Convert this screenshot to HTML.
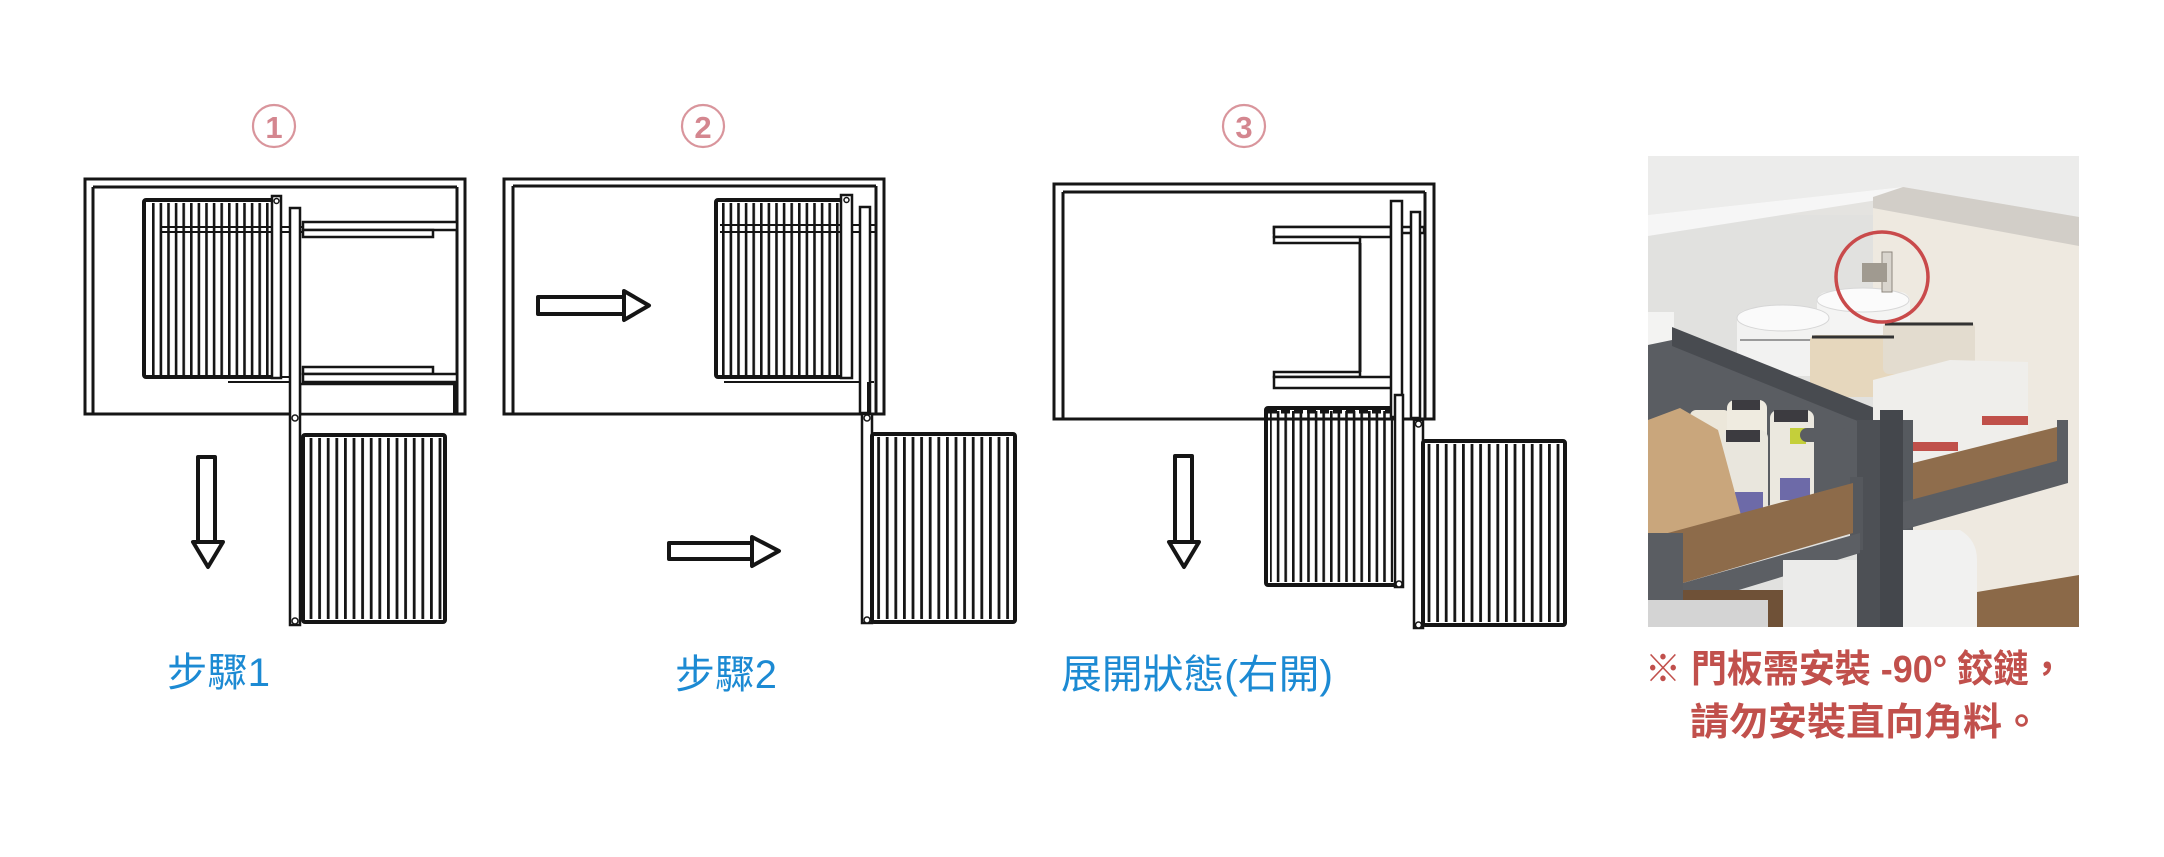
<!DOCTYPE html>
<html><head><meta charset="utf-8">
<style>
html,body{margin:0;padding:0;background:#fff;}
body{width:2164px;height:857px;overflow:hidden;}
svg{display:block;}
</style></head><body>
<svg width="2164" height="857" viewBox="0 0 2164 857" xmlns="http://www.w3.org/2000/svg">
<defs>
<pattern id="ba" patternUnits="userSpaceOnUse" width="7.6" height="10"><rect x="0" y="0" width="2.6" height="10" fill="#151515"/></pattern>
<pattern id="bb" patternUnits="userSpaceOnUse" width="8.6" height="10"><rect x="0" y="0" width="2.8" height="10" fill="#151515"/></pattern>
<clipPath id="pc"><rect x="1648" y="156" width="431" height="471"/></clipPath>
</defs>
<rect width="2164" height="857" fill="#fff"/>

<!-- circled numbers -->
<g fill="none" stroke="#d9959c" stroke-width="2.2">
<circle cx="274" cy="126" r="21"/>
<circle cx="703" cy="126" r="21"/>
<circle cx="1244" cy="126" r="21"/>
</g>
<g font-family="'Liberation Sans','Noto Sans CJK TC',sans-serif" font-weight="bold" font-size="31" fill="#d4868f" text-anchor="middle">
<text x="274" y="138">1</text>
<text x="703" y="138">2</text>
<text x="1244" y="138">3</text>
</g>

<!-- ===== PANEL 1 ===== -->
<g stroke="#151515" fill="none" stroke-width="3">
<rect x="85" y="179" width="380" height="235"/>
<line x1="93" y1="187" x2="457" y2="187"/>
<line x1="93" y1="187" x2="93" y2="414"/>
<line x1="457" y1="187" x2="457" y2="414"/>
</g>
<rect x="148" y="203" width="122" height="172" fill="url(#ba)"/>
<rect x="144" y="200" width="129" height="177" rx="2" fill="none" stroke="#151515" stroke-width="4"/>
<g stroke="#151515" stroke-width="2" fill="none">
<line x1="160" y1="227" x2="303" y2="227"/>
<line x1="160" y1="232" x2="303" y2="232"/>
<line x1="228" y1="377" x2="300" y2="377"/>
<line x1="228" y1="382" x2="300" y2="382"/>
</g>
<g stroke="#151515" stroke-width="2.5" fill="#fff">
<rect x="272" y="196" width="9" height="182"/>
<rect x="303" y="222" width="154" height="8"/>
<rect x="303" y="230" width="130" height="7"/>
<rect x="303" y="367" width="130" height="7"/>
<rect x="303" y="374" width="154" height="8"/>
<rect x="300" y="384" width="157" height="30"/>
<rect x="290" y="208" width="10" height="417"/>
</g>
<line x1="455" y1="384" x2="455" y2="414" stroke="#151515" stroke-width="4"/>
<g fill="#fff" stroke="#151515" stroke-width="1.5">
<circle cx="276.5" cy="201" r="2.5"/>
<circle cx="295" cy="418" r="3"/>
<circle cx="295" cy="621" r="3"/>
</g>
<rect x="307" y="438" width="135" height="181" fill="url(#bb)"/>
<rect x="303" y="435" width="142" height="187" rx="2" fill="none" stroke="#151515" stroke-width="4"/>
<g stroke="#151515" stroke-width="4" fill="#fff" stroke-linejoin="round">
<rect x="198" y="457" width="17" height="85"/>
<polygon points="193,542 223,542 208,567"/>
</g>

<!-- ===== PANEL 2 ===== -->
<g stroke="#151515" fill="none" stroke-width="3">
<rect x="504" y="179" width="380" height="235"/>
<line x1="513" y1="186" x2="876" y2="186"/>
<line x1="513" y1="186" x2="513" y2="414"/>
<line x1="876" y1="186" x2="876" y2="414"/>
</g>
<rect x="720" y="203" width="122" height="172" fill="url(#ba)"/>
<rect x="716" y="200" width="129" height="177" rx="2" fill="none" stroke="#151515" stroke-width="4"/>
<g stroke="#151515" stroke-width="2" fill="none">
<line x1="720" y1="225" x2="876" y2="225"/>
<line x1="720" y1="232" x2="876" y2="232"/>
<line x1="724" y1="382" x2="874" y2="382"/>
</g>
<g stroke="#151515" stroke-width="2.5" fill="#fff">
<rect x="841" y="195" width="11" height="183"/>
<rect x="860" y="207" width="10" height="206"/>
<rect x="862" y="414" width="10" height="209"/>
</g>
<line x1="869" y1="382" x2="869" y2="414" stroke="#151515" stroke-width="4"/>
<g fill="#fff" stroke="#151515" stroke-width="1.5">
<circle cx="846.5" cy="200" r="2.5"/>
<circle cx="867" cy="418" r="3"/>
<circle cx="867" cy="620" r="3"/>
</g>
<rect x="876" y="437" width="136" height="182" fill="url(#bb)"/>
<rect x="872" y="434" width="143" height="188" rx="2" fill="none" stroke="#151515" stroke-width="4"/>
<g stroke="#151515" stroke-width="4" fill="#fff" stroke-linejoin="round">
<rect x="538" y="297" width="88" height="17"/>
<polygon points="624,291 649,305.5 624,320"/>
<rect x="669" y="543" width="84" height="16"/>
<polygon points="752,537 779,551 752,566"/>
</g>

<!-- ===== PANEL 3 ===== -->
<g stroke="#151515" fill="none" stroke-width="3">
<rect x="1054" y="184" width="380" height="235"/>
<line x1="1063" y1="192" x2="1425" y2="192"/>
<line x1="1063" y1="192" x2="1063" y2="419"/>
<line x1="1425" y1="192" x2="1425" y2="419"/>
</g>
<g stroke="#151515" stroke-width="2.5" fill="#fff">
<rect x="1274" y="227" width="150" height="6"/>
<rect x="1274" y="227" width="117" height="10"/>
<rect x="1274" y="237" width="86" height="6"/>
<rect x="1274" y="372" width="86" height="5"/>
<rect x="1274" y="377" width="121" height="11"/>
</g>
<line x1="1360" y1="243" x2="1360" y2="372" stroke="#151515" stroke-width="3"/>
<rect x="1270" y="411" width="123" height="171" fill="url(#ba)"/>
<rect x="1266" y="408" width="130" height="177" rx="2" fill="none" stroke="#151515" stroke-width="4"/>
<line x1="1268" y1="411" x2="1394" y2="411" stroke="#151515" stroke-width="5" stroke-dasharray="9,4"/>
<g stroke="#151515" stroke-width="2.5" fill="#fff">
<rect x="1391" y="201" width="11" height="216"/>
<rect x="1411" y="212" width="9" height="206"/>
<rect x="1395" y="395" width="8" height="192"/>
<rect x="1414" y="420" width="9" height="208"/>
</g>
<g fill="#fff" stroke="#151515" stroke-width="1.5">
<circle cx="1399" cy="584" r="3"/>
<circle cx="1418.5" cy="424" r="3"/>
<circle cx="1418.5" cy="625" r="3"/>
</g>
<rect x="1427" y="444" width="135" height="178" fill="url(#bb)"/>
<rect x="1423" y="441" width="142" height="184" rx="2" fill="none" stroke="#151515" stroke-width="4"/>
<g stroke="#151515" stroke-width="4" fill="#fff" stroke-linejoin="round">
<rect x="1175" y="456" width="17" height="86"/>
<polygon points="1169,542 1199,542 1184,567"/>
</g>

<!-- ===== PHOTO ===== -->
<g clip-path="url(#pc)">
<rect x="1648" y="156" width="431" height="471" fill="#e4e3e0"/>
<!-- walls -->
<rect x="1648" y="215" width="230" height="412" fill="#e1e1df"/>
<polygon points="1873,195 2079,240 2079,627 1873,627" fill="#eee9e0"/>
<!-- countertop -->
<polygon points="1648,156 2079,156 2079,217 1903,187 1648,215" fill="#ececeb"/>
<polygon points="1648,215 1903,187 1903,196 1648,236" fill="#f6f6f6"/>
<polygon points="1873,197 1903,187 2079,217 2079,246 1873,208" fill="#d2cec8"/>
<!-- containers -->
<rect x="1648" y="312" width="26" height="52" fill="#f3f3f2"/>
<rect x="1817" y="292" width="93" height="45" rx="10" fill="#f4f4f3"/>
<ellipse cx="1863" cy="300" rx="46" ry="12" fill="#fbfbfb" stroke="#d8d8d8"/>
<rect x="1737" y="310" width="93" height="66" rx="10" fill="#f2f2f1"/>
<ellipse cx="1783" cy="318" rx="46" ry="13" fill="#fafafa" stroke="#d6d6d6"/>
<line x1="1740" y1="340" x2="1828" y2="340" stroke="#9a9a9a" stroke-width="2"/>
<rect x="1810" y="335" width="86" height="62" rx="6" fill="#e6d7bd"/>
<rect x="1883" y="322" width="92" height="52" rx="6" fill="#e3dccf"/>
<line x1="1812" y1="337" x2="1894" y2="337" stroke="#333" stroke-width="3"/>
<line x1="1885" y1="324" x2="1973" y2="324" stroke="#333" stroke-width="3"/>
<!-- wood lid jar -->
<rect x="1648" y="360" width="70" height="55" fill="#f2f2f0"/>
<ellipse cx="1683" cy="370" rx="35" ry="12" fill="#d8b48a"/>
<!-- dark rail + side panel -->
<polygon points="1672,340 1867,425 1867,480 1648,537 1648,345" fill="#5a5d62"/>
<polygon points="1672,327 1897,417 1897,437 1672,346" fill="#484b50"/>
<!-- jars -->
<rect x="1690" y="410" width="40" height="80" rx="6" fill="#ece7da"/>
<rect x="1727" y="400" width="40" height="110" rx="8" fill="#efebe0"/>
<rect x="1722" y="430" width="46" height="100" rx="8" fill="#e9e6dd"/>
<rect x="1770" y="410" width="44" height="108" rx="8" fill="#ebe8df"/>
<rect x="1732" y="400" width="28" height="10" fill="#3c3b40"/>
<rect x="1774" y="410" width="34" height="12" fill="#3c3b40"/>
<rect x="1726" y="430" width="34" height="12" fill="#3c3b40"/>
<rect x="1735" y="492" width="28" height="22" fill="#6d6aa8"/>
<rect x="1780" y="478" width="30" height="22" fill="#6d6aa8"/>
<rect x="1790" y="428" width="16" height="16" fill="#c4cf3a"/>
<!-- kraft bag -->
<polygon points="1648,420 1680,408 1718,430 1745,530 1700,548 1648,548" fill="#c9a67c"/>
<!-- handle -->
<rect x="1800" y="428" width="48" height="14" rx="7" fill="#5a5d62"/>
<!-- captiva bags -->
<polygon points="1873,380 1950,360 2028,362 2028,440 1915,470 1873,465" fill="#efeeeb"/>
<rect x="1912" y="442" width="46" height="9" fill="#c0504a"/>
<rect x="1982" y="416" width="46" height="9" fill="#c0504a"/>
<!-- center posts -->
<rect x="1857" y="420" width="23" height="207" fill="#4d5055"/>
<rect x="1880" y="410" width="23" height="217" fill="#44474c"/>
<rect x="1850" y="477" width="13" height="73" fill="#55585d"/>
<!-- left tray -->
<polygon points="1653,537 1853,483 1853,533 1683,583 1653,583" fill="#8d6b4a"/>
<polygon points="1683,583 1860,533 1860,553 1683,607" fill="#5c5f64"/>
<rect x="1648" y="533" width="35" height="80" fill="#5a5d62"/>
<!-- under left tray -->
<rect x="1683" y="590" width="100" height="37" fill="#6f5137"/>
<rect x="1783" y="560" width="74" height="67" fill="#ebebea"/>
<rect x="1648" y="600" width="120" height="27" fill="#d4d4d4"/>
<!-- right tray -->
<rect x="1903" y="420" width="10" height="110" fill="#565a5f"/>
<polygon points="1913,463 2057,427 2057,463 1913,502" fill="#8f6d4c"/>
<polygon points="1903,502 2068,458 2068,483 1903,530" fill="#5b5e63"/>
<rect x="2057" y="420" width="11" height="63" fill="#5b5e63"/>
<!-- white bin -->
<path d="M1903,530 L1960,530 Q1977,540 1977,560 L1977,627 L1903,627 Z" fill="#f1f1f0"/>
<polygon points="1977,592 2079,575 2079,627 1977,627" fill="#8b6948"/>
<!-- hinge -->
<rect x="1882" y="252" width="10" height="40" fill="#d9d5ce" stroke="#8d877e" stroke-width="1"/>
<rect x="1862" y="263" width="25" height="19" fill="#a09a90"/>
<!-- red circle -->
<ellipse cx="1882" cy="277" rx="46" ry="45" fill="none" stroke="#c94a4b" stroke-width="3.5"/>
</g>

<!-- captions -->
<g font-family="'Liberation Sans','Noto Sans CJK TC',sans-serif" font-size="40" fill="#1c8ad3">
<text x="167" y="686" textLength="103" lengthAdjust="spacingAndGlyphs">步驟1</text>
<text x="675" y="688" textLength="102" lengthAdjust="spacingAndGlyphs">步驟2</text>
<text x="1061" y="688" textLength="272" lengthAdjust="spacingAndGlyphs">展開狀態(右開)</text>
</g>
<g font-family="'Liberation Sans','Noto Sans CJK TC',sans-serif" font-size="38" font-weight="bold" fill="#c1504c">
<text x="1645" y="682" textLength="420" lengthAdjust="spacingAndGlyphs">※ 門板需安裝 -90° 鉸鏈，</text>
<text x="1690" y="735" textLength="351" lengthAdjust="spacingAndGlyphs">請勿安裝直向角料。</text>
</g>
</svg>
</body></html>
